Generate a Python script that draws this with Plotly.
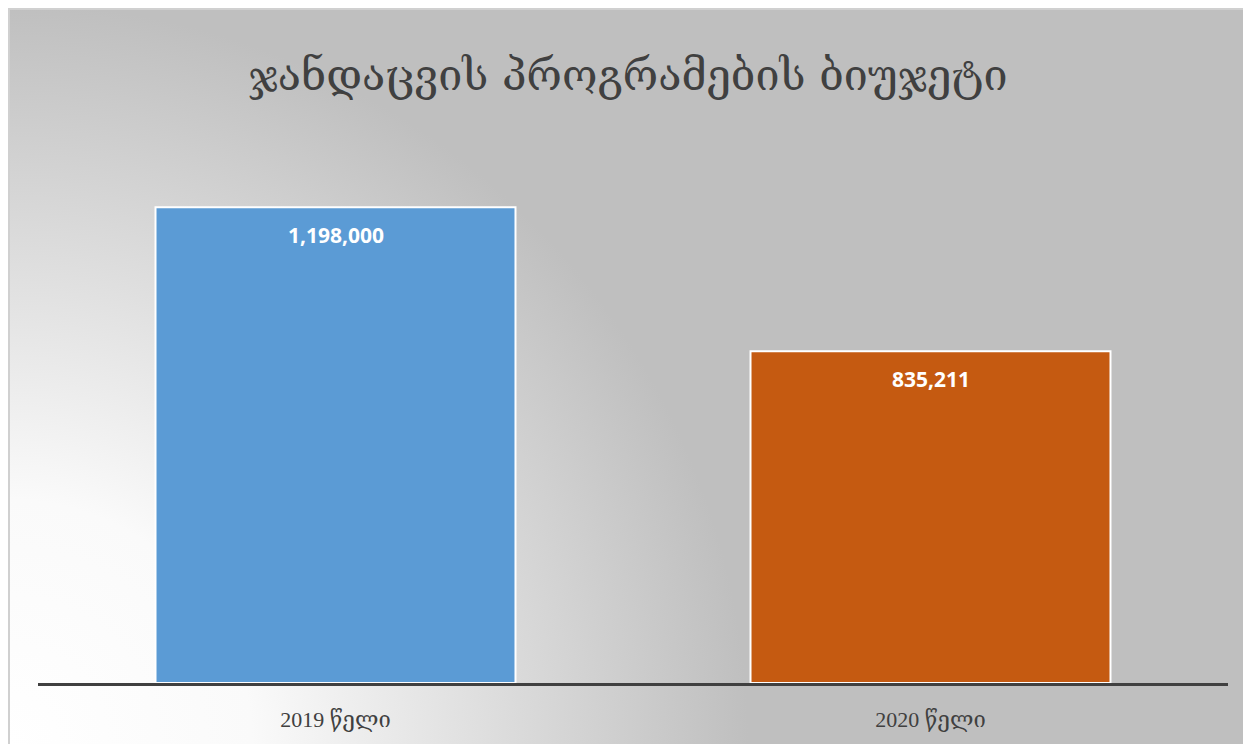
import base64
import plotly.graph_objects as go

# ---- data ----
categories = ["2019 წელი", "2020 წელი"]
values = [1198000, 835211]
bar_colors = ["#5B9BD5", "#C55A11"]
title_text = "ჯანდაცვის პროგრამების ბიუჯეტი"

W, H = 1243, 736
L, R, T, B = 30, 23, 119, 61
pw, ph = W - L - R, H - T - B

# ---- background gradient (radial, light at lower-left) ----
svg = (
    f'<svg xmlns="http://www.w3.org/2000/svg" width="{W}" height="{H}" viewBox="0 0 {W} {H}">'
    f'<defs><radialGradient id="g" gradientUnits="userSpaceOnUse" cx="0" cy="{H}" r="740">'
    '<stop offset="0" stop-color="#FFFFFF"/>'
    '<stop offset="0.33" stop-color="#FAFAFA"/>'
    '<stop offset="1" stop-color="#BFBFBF"/>'
    '</radialGradient></defs>'
    f'<rect x="0" y="0" width="{W}" height="{H}" fill="url(#g)"/>'
    f'<line x1="1" y1="0" x2="1" y2="{H}" stroke="#D0D0D0" stroke-width="2"/>'
    f'<line x1="0" y1="1" x2="{W}" y2="1" stroke="#D0D0D0" stroke-width="2"/>'
    '</svg>'
)
svg_uri = "data:image/svg+xml;base64," + base64.b64encode(svg.encode()).decode()

fig = go.Figure()
fig.add_trace(go.Bar(
    x=categories,
    y=values,
    marker=dict(color=bar_colors, line=dict(color="#FFFFFF", width=2)),
    hoverinfo="skip",
))

annotations = []
for c, v in zip(categories, values):
    annotations.append(dict(
        x=c, y=v, xref="x", yref="y",
        text=f"<b>{v:,}</b>",
        showarrow=False, yanchor="middle", yshift=-28,
        font=dict(family="Open Sans, Liberation Sans, sans-serif", size=21, color="#FFFFFF"),
    ))

x0, x1 = -L / pw, (W - L) / pw
y0, y1 = -B / ph, (H - B) / ph

fig.update_layout(
    width=W, height=H,
    margin=dict(l=L, r=R, t=T, b=B),
    paper_bgcolor="#BFBFBF",
    plot_bgcolor="rgba(0,0,0,0)",
    bargap=0.395,
    showlegend=False,
    title=dict(
        text=title_text,
        x=620 / W, xref="container", xanchor="center",
        y=1 - 67 / H, yref="container", yanchor="middle",
        font=dict(family="DejaVu Serif, serif", size=43, color="#404040"),
    ),
    xaxis=dict(
        showline=True, linecolor="#404040", linewidth=3,
        showgrid=False, ticks="", ticklabelstandoff=15,
        tickfont=dict(family="Liberation Serif, DejaVu Serif, serif", size=22, color="#404040"),
    ),
    yaxis=dict(
        range=[0, 1400000], visible=False, showgrid=False, zeroline=False,
    ),
    images=[dict(
        source=svg_uri, xref="paper", yref="paper",
        x=x0, y=y1, sizex=x1 - x0, sizey=y1 - y0,
        xanchor="left", yanchor="top", sizing="stretch", layer="below",
    )],
    annotations=annotations,
)

fig.write_html("out.html")
